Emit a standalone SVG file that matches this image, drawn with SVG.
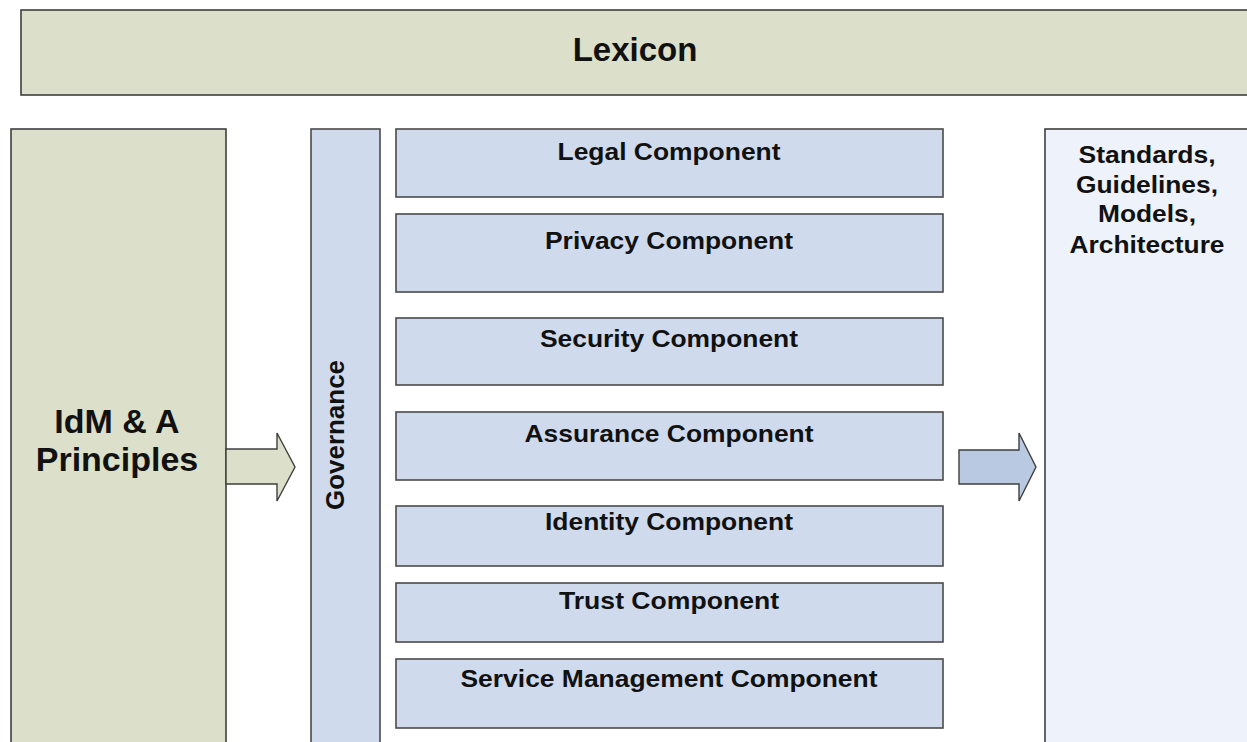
<svg xmlns="http://www.w3.org/2000/svg" width="1247" height="742" viewBox="0 0 1247 742">
<style>
.g{fill:#dcdfc9;stroke:#3f3f3f;stroke-width:1.6}
.b{fill:#cfdaec;stroke:#4a4a4a;stroke-width:1.6}
.w{fill:#eef2fa;stroke:#3f3f3f;stroke-width:1.6}
.t{font-family:"Liberation Sans",Arial,sans-serif;font-weight:bold;fill:#111;text-anchor:middle}
.c{font-size:24px}
</style>
<rect width="1247" height="742" fill="#ffffff"/>
<g id="lexicon">
<rect class="g" x="21" y="10" width="1240" height="85"/>
<text class="t" x="635" y="61" font-size="33">Lexicon</text>
</g>
<g id="principles">
<rect class="g" x="11" y="129" width="215" height="640"/>
<text class="t" x="117" y="433" font-size="34">IdM &amp; A</text>
<text class="t" x="117" y="471" font-size="34">Principles</text>
</g>
<g id="governance">
<rect class="b" x="311" y="129" width="69" height="640"/>
<text class="t" transform="translate(344,435) rotate(-90)" x="0" y="0" font-size="25" textLength="150" lengthAdjust="spacingAndGlyphs">Governance</text>
</g>
<g id="legal">
<rect class="b" x="396" y="129" width="547" height="68"/>
<text class="t c" x="669" y="160" textLength="223" lengthAdjust="spacingAndGlyphs">Legal Component</text>
</g>
<g id="privacy">
<rect class="b" x="396" y="214" width="547" height="78"/>
<text class="t c" x="669" y="249" textLength="248" lengthAdjust="spacingAndGlyphs">Privacy Component</text>
</g>
<g id="security">
<rect class="b" x="396" y="318" width="547" height="67"/>
<text class="t c" x="669" y="347" textLength="258" lengthAdjust="spacingAndGlyphs">Security Component</text>
</g>
<g id="assurance">
<rect class="b" x="396" y="412" width="547" height="68"/>
<text class="t c" x="669" y="442" textLength="289" lengthAdjust="spacingAndGlyphs">Assurance Component</text>
</g>
<g id="identity">
<rect class="b" x="396" y="506" width="547" height="60"/>
<text class="t c" x="669" y="530" textLength="248" lengthAdjust="spacingAndGlyphs">Identity Component</text>
</g>
<g id="trust">
<rect class="b" x="396" y="583" width="547" height="59"/>
<text class="t c" x="669" y="609" textLength="220" lengthAdjust="spacingAndGlyphs">Trust Component</text>
</g>
<g id="service">
<rect class="b" x="396" y="659" width="547" height="69"/>
<text class="t c" x="669" y="687" textLength="417" lengthAdjust="spacingAndGlyphs">Service Management Component</text>
</g>
<g id="standards">
<rect class="w" x="1045" y="129" width="220" height="640"/>
<text class="t c" x="1147" y="163" textLength="137" lengthAdjust="spacingAndGlyphs">Standards,</text>
<text class="t c" x="1147" y="193" textLength="142" lengthAdjust="spacingAndGlyphs">Guidelines,</text>
<text class="t c" x="1147" y="222" textLength="98" lengthAdjust="spacingAndGlyphs">Models,</text>
<text class="t c" x="1147" y="253" textLength="155" lengthAdjust="spacingAndGlyphs">Architecture</text>
</g>
<g id="connectors">
<path d="M226,449 L277,449 L277,433 L295,467 L277,501 L277,484 L226,484 Z" fill="#dcdfc9" stroke="#3f3f3f" stroke-width="1.4"/>
<path d="M959,450 L1019,450 L1019,433 L1036,467 L1019,501 L1019,484 L959,484 Z" fill="#b9c9e1" stroke="#3f3f3f" stroke-width="1.4"/>
</g>
</svg>
